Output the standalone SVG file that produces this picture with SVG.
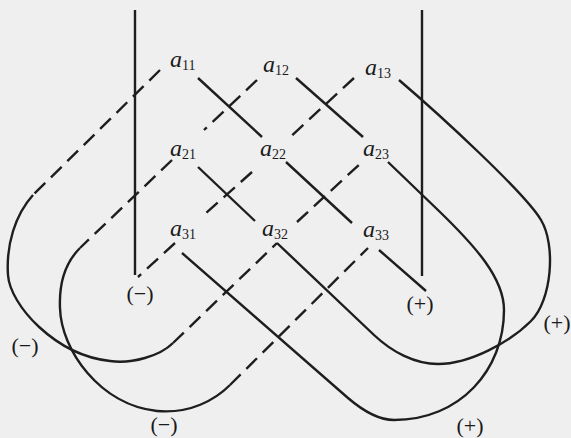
<svg xmlns="http://www.w3.org/2000/svg" width="571" height="438" viewBox="0 0 571 438">
<style>
.s{fill:none;stroke:#1e1e1e;stroke-width:2.4;stroke-linecap:butt}
.d{fill:none;stroke:#1e1e1e;stroke-width:2.4;stroke-dasharray:15 8}
.a{font-family:"Liberation Serif","Times New Roman",serif;font-style:italic;font-size:24px;fill:#1a1a1a}
.sub{font-family:"Liberation Serif","Times New Roman",serif;font-style:normal;font-size:14px}
.sg{font-family:"Liberation Serif","Times New Roman",serif;font-size:22px;fill:#1a1a1a;text-anchor:middle}
</style>
<rect width="571" height="438" fill="#efefef"/>
<g id="connectors">
  <line class="s" x1="135" y1="10" x2="135" y2="275"/>
  <line class="s" x1="422" y1="10" x2="422" y2="276"/>
  <!-- a11 a22 a33 -->
  <path class="s" d="M198,78 L262,137 M286,162 L352,223 M379,250 L426,291"/>
  <!-- a12 a23 loop a31 -->
  <path class="s" d="M296,78 L363,137"/>
  <path class="s" d="M388,162 L440,212 C475,246 504,278 504,310 C504,370 460,420 394,420 C378,420 362,410 348,398 L182,253"/>
  <!-- a13 loop a21 a32 -->
  <path class="s" d="M198,167 L255,221"/>
  <path class="s" d="M277,243 L374,335 C392,352 415,364 438,364 C470,364 510,342 531,321 C552,300 556,245 541,220 C525,193 440,115 399,80"/>
  <!-- a13 a22 a31 -->
  <path class="d" d="M354,78 L288,139 M252,172 L206,213 M175,243 L138,277"/>
  <!-- a12 a21 loop a33 -->
  <path class="d" d="M257,80 L204,130 M172,160 L80,248"/>
  <path class="s" d="M80,248 C65,263 59,285 60,308 C61,350 100,405 157,411 C190,414 215,400 230,385"/>
  <path class="d" d="M230,385 L368,248"/>
  <!-- a11 loop a23 a32 -->
  <path class="d" d="M160,70 L33,195"/>
  <path class="s" d="M33,195 C15,215 6,245 8,275 C10,305 55,355 110,361 C132,364 160,356 173,343"/>
  <path class="d" d="M173,343 L277,243 M297,222 L362,162"/>
</g>
<g id="a11"><text class="a" x="170" y="67">a<tspan class="sub" dy="3">11</tspan></text></g>
<g id="a12"><text class="a" x="263" y="72">a<tspan class="sub" dy="3">12</tspan></text></g>
<g id="a13"><text class="a" x="365" y="75">a<tspan class="sub" dy="3">13</tspan></text></g>
<g id="a21"><text class="a" x="170" y="156">a<tspan class="sub" dy="3">21</tspan></text></g>
<g id="a22"><text class="a" x="260" y="156">a<tspan class="sub" dy="3">22</tspan></text></g>
<g id="a23"><text class="a" x="363" y="156">a<tspan class="sub" dy="3">23</tspan></text></g>
<g id="a31"><text class="a" x="170" y="236">a<tspan class="sub" dy="3">31</tspan></text></g>
<g id="a32"><text class="a" x="262" y="236">a<tspan class="sub" dy="3">32</tspan></text></g>
<g id="a33"><text class="a" x="363" y="237">a<tspan class="sub" dy="3">33</tspan></text></g>
<g id="minus-inner"><text class="sg" x="140" y="301">(−)</text></g>
<g id="minus-left"><text class="sg" x="25" y="353">(−)</text></g>
<g id="minus-bottom"><text class="sg" x="164" y="432">(−)</text></g>
<g id="plus-inner"><text class="sg" x="420" y="311">(+)</text></g>
<g id="plus-right"><text class="sg" x="557" y="330">(+)</text></g>
<g id="plus-bottom"><text class="sg" x="470" y="433">(+)</text></g>
</svg>
